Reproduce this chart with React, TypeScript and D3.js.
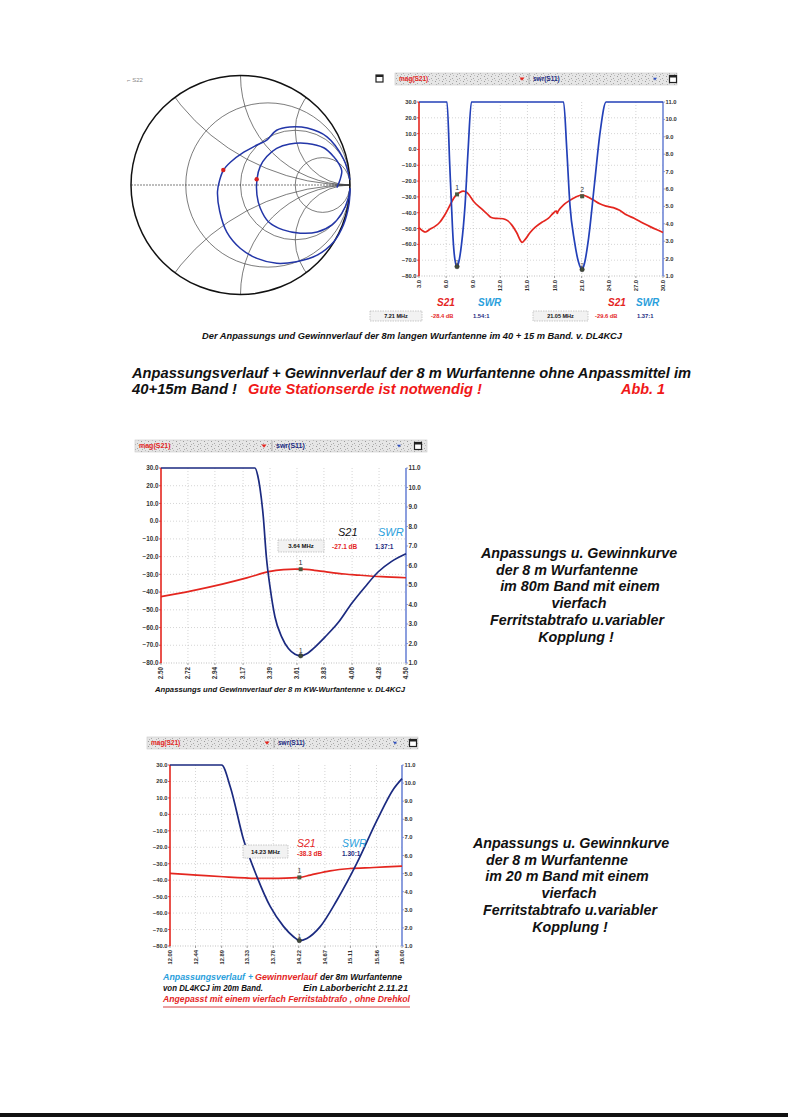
import React from 'react';
import * as d3 from 'd3';

const FONT = '"Liberation Sans", Arial, Helvetica, sans-serif';
const RED = '#e4261f';
const NAVY = '#1b2a80';
const CYAN = '#2aa0dc';

// ---------- DATA ----------
const yLeftTicks = [30, 20, 10, 0, -10, -20, -30, -40, -50, -60, -70, -80];
const yRightTicks = [11, 10, 9, 8, 7, 6, 5, 4, 3, 2, 1];

// Top chart: 40 + 15 m band
const topXTicks = [3, 6, 9, 12, 15, 18, 21, 24, 27, 30];
const topXLabels = ['3.0', '6.0', '9.0', '12.0', '15.0', '18.0', '21.0', '24.0', '27.0', '30.0'];
const topS21: [number, number][] = [
  [3.0, -49.3], [3.3, -51], [3.7, -52.2], [4.2, -50.5], [4.8, -48.5], [5.3, -46], [5.9, -41],
  [6.5, -34.5], [7.0, -29.5], [7.5, -27.2], [7.9, -26.3], [8.3, -27.2], [8.7, -30], [9.1, -33.2],
  [9.8, -37], [10.5, -40.5], [11.0, -43], [11.6, -43.6], [12.3, -43.8], [12.8, -45], [13.3, -48],
  [13.8, -52.5], [14.4, -58.7], [14.8, -56.5], [15.3, -52.5], [15.9, -49], [16.6, -46], [17.3, -43.6],
  [17.9, -40], [18.2, -39], [18.3, -40.5], [18.4, -39], [19.0, -35], [19.6, -32.5], [20.3, -30.2],
  [21.0, -28.8], [21.6, -29.8], [22.3, -32], [23.0, -34.3], [23.7, -35.8], [24.5, -36.8], [25.2, -38.5],
  [26.0, -41.5], [26.8, -43.5], [27.6, -46], [28.4, -48.3], [29.2, -50.5], [30.0, -52.5],
];
const topSWR: [number, number][] = [
  [3, 11], [6.1, 11], [6.4, 7.4], [6.6, 5.0], [6.77, 3.15], [6.96, 2.0], [7.21, 1.54], [7.4, 1.8],
  [7.7, 2.8], [8.1, 5.1], [8.44, 8.3], [8.8, 11], [19.0, 11], [19.35, 8.3], [19.7, 5.1], [20.2, 3.0],
  [20.65, 1.8], [21.05, 1.37], [21.3, 1.7], [21.76, 3.15], [22.4, 6.2], [23.05, 9.3], [23.7, 11], [30, 11],
];
const topMarkers = [
  { f: 7.21, db: -28.4, swr: 1.54, n: '1' },
  { f: 21.05, db: -29.6, swr: 1.37, n: '2' },
];

// Middle chart: 80 m band
const midXTicks = [2.5, 2.72, 2.94, 3.17, 3.39, 3.61, 3.83, 4.06, 4.28, 4.5];
const midXLabels = ['2.50', '2.72', '2.94', '3.17', '3.39', '3.61', '3.83', '4.06', '4.28', '4.50'];
const midS21: [number, number][] = [
  [2.5, -42.6], [2.75, -39.3], [3.0, -35.5], [3.2, -32], [3.38, -28.5], [3.5, -27.3], [3.64, -27.1],
  [3.75, -27.7], [3.84, -28.5], [4.0, -29.8], [4.11, -30.4], [4.3, -31.3], [4.5, -31.9],
];
const midSWR: [number, number][] = [
  [2.5, 11], [3.267, 11], [3.29, 10.6], [3.308, 9.97], [3.335, 8.5], [3.36, 6.45], [3.39, 4.9],
  [3.43, 3.37], [3.485, 2.34], [3.54, 1.74], [3.594, 1.45], [3.64, 1.37], [3.69, 1.48], [3.757, 1.82],
  [3.84, 2.34], [3.95, 3.1], [4.056, 4.05], [4.165, 4.9], [4.274, 5.68], [4.38, 6.2], [4.5, 6.6],
];
const midMarkers = [{ f: 3.64, db: -27.1, swr: 1.37, n: '1' }];

// Bottom chart: 20 m band
const botXTicks = [12, 12.44, 12.89, 13.33, 13.78, 14.22, 14.67, 15.11, 15.56, 16];
const botXLabels = ['12.00', '12.44', '12.89', '13.33', '13.78', '14.22', '14.67', '15.11', '15.56', '16.00'];
const botS21: [number, number][] = [
  [12.0, -35.9], [12.46, -36.9], [12.92, -37.9], [13.5, -38.9], [13.8, -38.9], [14.23, -38.3],
  [14.42, -36.9], [14.76, -34.3], [15.11, -32.9], [15.51, -32.3], [16.0, -31.5],
];
const botSWR: [number, number][] = [
  [12, 11], [12.89, 11], [13.04, 9.79], [13.27, 6.85], [13.5, 4.82], [13.73, 3.17], [13.96, 2.07],
  [14.13, 1.51], [14.23, 1.3], [14.36, 1.42], [14.59, 2.07], [14.88, 3.54], [15.22, 5.56],
  [15.57, 7.95], [15.86, 9.7], [16.0, 10.25],
];
const botMarkers = [{ f: 14.23, db: -38.3, swr: 1.3, n: '1' }];

// Smith chart (reflection coefficient, re / im)
const smithR = [1 / 3, 1, 3];
const smithX = [0.5, 1, 2, -0.5, -1, -2];
const smithOuter: [number, number][] = [
  [1.0, 0.046], [0.94, 0.24], [0.79, 0.44], [0.61, 0.52], [0.45, 0.53], [0.33, 0.5], [0.24, 0.41],
  [0.15, 0.365], [0.03, 0.3], [-0.09, 0.21], [-0.155, 0.137], [-0.19, 0.046], [-0.21, -0.06],
  [-0.19, -0.24], [-0.125, -0.43], [0, -0.58], [0.15, -0.67], [0.33, -0.715], [0.51, -0.7],
  [0.7, -0.64], [0.85, -0.52], [0.94, -0.365], [0.99, -0.18], [1.0, -0.03],
];
const smithInner: [number, number][] = [
  [0.88, -0.024], [0.91, 0.05], [0.925, 0.13], [0.9, 0.19], [0.85, 0.26], [0.76, 0.34], [0.61, 0.38],
  [0.45, 0.375], [0.33, 0.335], [0.24, 0.26], [0.18, 0.17], [0.15, 0.052], [0.15, -0.09],
  [0.18, -0.21], [0.255, -0.335], [0.39, -0.41], [0.545, -0.44], [0.7, -0.43], [0.835, -0.365],
  [0.925, -0.26], [0.985, -0.12], [1.0, -0.03],
];
const smithDots: [number, number][] = [[-0.157, 0.137], [0.148, 0.052]];

// ---------- COMPONENTS ----------
type ChartProps = {
  id: string;
  x0: number; x1: number; y0: number; y1: number;
  xTicks: number[]; xLabels: string[];
  s21: [number, number][]; swr: [number, number][];
  markers: { f: number; db: number; swr: number; n: string }[];
  fs: number; clipX?: number; swrColor: string;
};

function Chart(p: ChartProps) {
  const x = d3.scaleLinear().domain([p.xTicks[0], p.xTicks[p.xTicks.length - 1]]).range([p.x0, p.x1]);
  const yL = d3.scaleLinear().domain([-80, 30]).range([p.y1, p.y0]);
  const yR = d3.scaleLinear().domain([1, 11]).range([p.y1, p.y0]);
  const redLine = d3.line<[number, number]>().x(d => x(d[0])).y(d => yL(d[1])).curve(d3.curveCatmullRom);
  const blueLine = d3.line<[number, number]>().x(d => x(d[0])).y(d => yR(d[1])).curve(d3.curveMonotoneX);
  const fmt = d3.format('.1f');
  return (
    <g clipPath={p.clipX ? `url(#clip-${p.id})` : undefined}>
      {p.clipX && (
        <defs>
          <clipPath id={`clip-${p.id}`}><rect x={0} y={0} width={p.clipX} height={1117} /></clipPath>
        </defs>
      )}
      {/* grid */}
      {p.xTicks.slice(1, -1).map((t, i) => (
        <line key={'gx' + i} x1={x(t)} x2={x(t)} y1={p.y0} y2={p.y1} stroke="#b8b8b8" strokeWidth={0.6} strokeDasharray="1 2" />
      ))}
      {yLeftTicks.slice(1, -1).map((t, i) => (
        <line key={'gy' + i} x1={p.x0} x2={p.x1} y1={yL(t)} y2={yL(t)} stroke="#b8b8b8" strokeWidth={0.6} strokeDasharray="1 2" />
      ))}
      <line x1={p.x0} x2={p.x1} y1={p.y1} y2={p.y1} stroke="#999" strokeWidth={0.6} strokeDasharray="1 1.5" />
      {/* axes */}
      <line x1={p.x0} x2={p.x0} y1={p.y0} y2={p.y1} stroke={RED} strokeWidth={1.6} />
      <line x1={p.x1} x2={p.x1} y1={p.y0} y2={p.y1} stroke="#6f86d6" strokeWidth={1.6} />
      {yLeftTicks.map((t, i) => (
        <g key={'yl' + i}>
          <line x1={p.x0 - 2} x2={p.x0} y1={yL(t)} y2={yL(t)} stroke={RED} strokeWidth={0.8} />
          <text x={p.x0 - 2.5} y={yL(t) + p.fs * 0.35} textAnchor="end" fontSize={p.fs} fontWeight="bold" fill="#333" fontFamily={FONT}>{fmt(t)}</text>
        </g>
      ))}
      {yRightTicks.map((t, i) => (
        <g key={'yr' + i}>
          <line x1={p.x1} x2={p.x1 + 2} y1={yR(t)} y2={yR(t)} stroke="#6f86d6" strokeWidth={0.8} />
          <text x={p.x1 + 2.5} y={yR(t) + p.fs * 0.35} fontSize={p.fs} fontWeight="bold" fill="#333" fontFamily={FONT}>{fmt(t)}</text>
        </g>
      ))}
      {p.xTicks.map((t, i) => (
        <g key={'xt' + i}>
          <line x1={x(t)} x2={x(t)} y1={p.y1} y2={p.y1 + 2} stroke="#777" strokeWidth={0.7} />
          <text transform={`translate(${x(t) + p.fs * 0.35},${p.y1 + 4}) rotate(-90)`} textAnchor="end" fontSize={p.fs} fontWeight="bold" fill="#333" fontFamily={FONT}>{p.xLabels[i]}</text>
        </g>
      ))}
      {/* curves */}
      <path d={redLine(p.s21) || ''} fill="none" stroke={RED} strokeWidth={1.7} />
      <path d={blueLine(p.swr) || ''} fill="none" stroke={p.swrColor} strokeWidth={1.7} />
      {p.markers.map((m, i) => (
        <g key={'mk' + i}>
          <rect x={x(m.f) - 2} y={yL(m.db) - 2} width={4} height={4} fill="#4a5a40" />
          <text x={x(m.f)} y={yL(m.db) - 4} textAnchor="middle" fontSize={p.fs + 1} fill="#333" fontFamily={FONT}>{m.n}</text>
          <circle cx={x(m.f)} cy={yR(m.swr)} r={2.2} fill="#3f4a3a" stroke="#222" strokeWidth={0.5} />
          <text x={x(m.f)} y={yR(m.swr) - 3} textAnchor="middle" fontSize={p.fs} fill="#333" fontFamily={FONT}>{m.n}</text>
        </g>
      ))}
    </g>
  );
}

function HeaderBar(props: { x: number; y: number; w: number; h: number; sep: number; tri1: number; tri2: number; icon: number; fs: number }) {
  const { x, y, w, h, sep, tri1, tri2, icon, fs } = props;
  const cy = y + h / 2;
  return (
    <g>
      <rect x={x} y={y} width={w} height={h} fill="url(#noise)" stroke="#c8c8c8" strokeWidth={0.6} />
      <text x={x + 4} y={cy + fs * 0.35} fontSize={fs} fontWeight="bold" fill={RED} fontFamily={FONT}>mag(S21)</text>
      <path d={`M${tri1 - 2.5},${cy - 1.5} L${tri1 + 2.5},${cy - 1.5} L${tri1},${cy + 1.8} Z`} fill={RED} />
      <line x1={sep} x2={sep} y1={y + 1} y2={y + h - 1} stroke="#999" strokeWidth={0.7} />
      <text x={sep + 4} y={cy + fs * 0.35} fontSize={fs} fontWeight="bold" fill={NAVY} fontFamily={FONT}>swr(S11)</text>
      <path d={`M${tri2 - 2},${cy - 1.3} L${tri2 + 2},${cy - 1.3} L${tri2},${cy + 1.5} Z`} fill="#2f4fbf" />
      <rect x={icon - 3.5} y={cy - 3.5} width={7} height={7} fill="#fff" stroke="#222" strokeWidth={1.2} />
      <rect x={icon - 3.5} y={cy - 3.5} width={7} height={2} fill="#222" />
    </g>
  );
}

function Smith() {
  const cx = 240.5, cy = 185, R = 109.5;
  const sx = d3.scaleLinear().domain([-1, 1]).range([cx - R, cx + R]);
  const sy = d3.scaleLinear().domain([-1, 1]).range([cy + R, cy - R]);
  const line = d3.line<[number, number]>().x(d => sx(d[0])).y(d => sy(d[1])).curve(d3.curveCatmullRom);
  return (
    <g>
      <defs>
        <clipPath id="smithClip"><circle cx={cx} cy={cy} r={R} /></clipPath>
      </defs>
      <g clipPath="url(#smithClip)" fill="none" stroke="#444" strokeWidth={0.7}>
        {smithR.map((r, i) => (
          <circle key={'r' + i} cx={sx(r / (r + 1))} cy={cy} r={R / (r + 1)} />
        ))}
        {smithX.map((xv, i) => (
          <circle key={'x' + i} cx={sx(1)} cy={sy(1 / xv)} r={R / Math.abs(xv)} />
        ))}
        <line x1={cx - R} x2={cx + R} y1={cy} y2={cy} strokeDasharray="2 1" />
      </g>
      <circle cx={cx} cy={cy} r={R} fill="none" stroke="#111" strokeWidth={1.5} />
      <path d={line(smithOuter) || ''} fill="none" stroke="#2336a8" strokeWidth={1.5} />
      <path d={line(smithInner) || ''} fill="none" stroke="#2336a8" strokeWidth={1.5} />
      {smithDots.map((d, i) => (
        <circle key={'d' + i} cx={sx(d[0])} cy={sy(d[1])} r={2.2} fill="#d62020" />
      ))}
      <text x={127} y={82} fontSize={6} fill="#888" fontFamily={FONT}>⌐ S22</text>
    </g>
  );
}

function BoldItalic(props: { x: number; y: number; size: number; fill?: string; len?: number; anchor?: string; children: React.ReactNode }) {
  return (
    <text x={props.x} y={props.y} fontSize={props.size} fontWeight="bold" fontStyle="italic" fill={props.fill || '#111'}
      fontFamily={FONT} textAnchor={props.anchor || 'start'}
      textLength={props.len} lengthAdjust={props.len ? 'spacingAndGlyphs' : undefined}>{props.children}</text>
  );
}

function FreqBox(props: { x: number; y: number; w: number; h: number; label: string; fs: number }) {
  return (
    <g>
      <rect x={props.x} y={props.y} width={props.w} height={props.h} fill="#f2f2f2" stroke="#aaa" strokeWidth={0.6} strokeDasharray="1.5 1" />
      <text x={props.x + props.w / 2} y={props.y + props.h / 2 + props.fs * 0.35} textAnchor="middle" fontSize={props.fs} fontWeight="bold" fill="#111" fontFamily={FONT}>{props.label}</text>
    </g>
  );
}

const midTextLines = ['Anpassungs u. Gewinnkurve', 'der 8 m Wurfantenne', 'im 80m Band mit einem', 'vierfach', 'Ferritstabtrafo u.variabler', 'Kopplung !'];
const botTextLines = ['Anpassungs u. Gewinnkurve', 'der 8 m Wurfantenne', 'im 20 m Band mit einem', 'vierfach', 'Ferritstabtrafo u.variabler', 'Kopplung !'];
const midTextX = [579, 567, 580, 579, 577, 576];
const midTextY = [558, 574.5, 591, 608, 625, 642];
const botTextX = [571, 557, 567, 569, 570, 570];
const botTextY = [848, 864.5, 881, 898, 915, 932];

export default function App() {
  return (
    <svg width={788} height={1117} viewBox="0 0 788 1117" style={{ position: 'absolute', left: 0, top: 0, background: '#fff' }}>
      <defs>
        <pattern id="noise" width="7" height="5" patternUnits="userSpaceOnUse">
          <rect width="7" height="5" fill="#e6e6e6" />
          <rect x="1" y="1" width="1" height="1" fill="#9a9a9a" />
          <rect x="4" y="3" width="1" height="1" fill="#a8a8a8" />
          <rect x="5" y="0" width="1" height="1" fill="#bdbdbd" />
          <rect x="2" y="4" width="1" height="1" fill="#b0b0b0" />
        </pattern>
      </defs>
      <rect x={0} y={0} width={788} height={1117} fill="#fff" />

      {/* ===== TOP SECTION ===== */}
      <Smith />
      <rect x={376} y={75} width={7} height={7} fill="#fff" stroke="#222" strokeWidth={1.2} />
      <rect x={376} y={75} width={7} height={2} fill="#222" />
      <g clipPath="url(#clip-topbar)">
        <defs><clipPath id="clip-topbar"><rect x={0} y={0} width={680} height={200} /></clipPath></defs>
        <HeaderBar x={395} y={73} w={282} h={12} sep={529} tri1={522} tri2={655} icon={673} fs={6.5} />
      </g>
      <Chart id="top" x0={419} x1={663} y0={102} y1={276} xTicks={topXTicks} xLabels={topXLabels}
        s21={topS21} swr={topSWR} markers={topMarkers} fs={5.8} clipX={680} swrColor="#2340b8" />

      <BoldItalic x={437} y={306} size={10} fill={RED}>S21</BoldItalic>
      <BoldItalic x={478} y={306} size={10} fill={CYAN}>SWR</BoldItalic>
      <BoldItalic x={608} y={306} size={10} fill={RED}>S21</BoldItalic>
      <BoldItalic x={636} y={306} size={10} fill={CYAN}>SWR</BoldItalic>
      <FreqBox x={370} y={311} w={52} h={10} label="7.21 MHz" fs={5.5} />
      <FreqBox x={533} y={311} w={55} h={10} label="21.05 MHz" fs={5.5} />
      <text x={431} y={318} fontSize={5.8} fontWeight="bold" fill={RED} fontFamily={FONT}>-28.4 dB</text>
      <text x={473} y={318} fontSize={5.8} fontWeight="bold" fill={NAVY} fontFamily={FONT}>1.54:1</text>
      <text x={595} y={318} fontSize={5.8} fontWeight="bold" fill={RED} fontFamily={FONT}>-29.6 dB</text>
      <text x={637} y={318} fontSize={5.8} fontWeight="bold" fill={NAVY} fontFamily={FONT}>1.37:1</text>

      <BoldItalic x={202} y={339} size={8.5} len={420}>Der Anpassungs und Gewinnverlauf der 8m langen Wurfantenne  im 40 + 15 m Band.  v. DL4KCJ</BoldItalic>

      <BoldItalic x={132} y={378} size={15} len={559}>Anpassungsverlauf + Gewinnverlauf der 8 m Wurfantenne ohne Anpassmittel im</BoldItalic>
      <BoldItalic x={132} y={394} size={15} len={105}>40+15m Band !</BoldItalic>
      <BoldItalic x={248} y={394} size={14} fill="#f01818" len={234}>Gute Stationserde ist notwendig !</BoldItalic>
      <BoldItalic x={621} y={394} size={14} fill="#f01818" len={44}>Abb. 1</BoldItalic>

      {/* ===== MIDDLE SECTION ===== */}
      <HeaderBar x={135} y={440} w={292} h={12} sep={272} tri1={264} tri2={399} icon={418} fs={7} />
      <Chart id="mid" x0={161} x1={406} y0={468} y1={663} xTicks={midXTicks} xLabels={midXLabels}
        s21={midS21} swr={midSWR} markers={midMarkers} fs={6.3} swrColor={NAVY} />
      <text x={338} y={536} fontSize={11} fontStyle="italic" fill="#111" fontFamily={FONT}>S21</text>
      <text x={378} y={536} fontSize={11} fontStyle="italic" fill={CYAN} fontFamily={FONT}>SWR</text>
      <FreqBox x={278} y={540} w={46} h={12} label="3.64 MHz" fs={6} />
      <text x={332} y={549} fontSize={6.5} fontWeight="bold" fill={RED} fontFamily={FONT}>-27.1 dB</text>
      <text x={375} y={549} fontSize={6.5} fontWeight="bold" fill={NAVY} fontFamily={FONT}>1.37:1</text>
      <BoldItalic x={155} y={692} size={7} len={250}>Anpassungs und Gewinnverlauf der 8 m KW-Wurfantenne v. DL4KCJ</BoldItalic>

      {midTextLines.map((t, i) => (
        <BoldItalic key={'mt' + i} x={midTextX[i]} y={midTextY[i]} size={14.3} anchor="middle">{t}</BoldItalic>
      ))}

      {/* ===== BOTTOM SECTION ===== */}
      <HeaderBar x={147} y={737} w={271} h={12} sep={274} tri1={267} tri2={395} icon={413} fs={6.5} />
      <Chart id="bot" x0={170} x1={402} y0={765} y1={946} xTicks={botXTicks} xLabels={botXLabels}
        s21={botS21} swr={botSWR} markers={botMarkers} fs={5.8} swrColor={NAVY} />
      <text x={297} y={847} fontSize={10.5} fontStyle="italic" fill={RED} fontFamily={FONT}>S21</text>
      <text x={342} y={847} fontSize={10.5} fontStyle="italic" fill={CYAN} fontFamily={FONT}>SWR</text>
      <FreqBox x={243} y={845} w={45} h={13} label="14.23 MHz" fs={6} />
      <text x={297} y={856} fontSize={6.5} fontWeight="bold" fill={RED} fontFamily={FONT}>-38.3 dB</text>
      <text x={342} y={856} fontSize={6.5} fontWeight="bold" fill={NAVY} fontFamily={FONT}>1.30:1</text>

      <BoldItalic x={163} y={980} size={8.5} fill={CYAN} len={82}>Anpassungsverlauf</BoldItalic>
      <BoldItalic x={248} y={980} size={8.5} fill={CYAN}>+</BoldItalic>
      <BoldItalic x={255} y={980} size={8.5} fill={RED} len={62}>Gewinnverlauf</BoldItalic>
      <BoldItalic x={320} y={980} size={8.5} len={82}>der 8m Wurfantenne</BoldItalic>
      <BoldItalic x={163} y={991} size={8.5} len={100}>von DL4KCJ im 20m Band.</BoldItalic>
      <BoldItalic x={303} y={991} size={8.5} len={105}>Ein Laborbericht  2.11.21</BoldItalic>
      <BoldItalic x={163} y={1002} size={8.5} fill={RED} len={247}>Angepasst mit einem vierfach Ferritstabtrafo , ohne Drehkol</BoldItalic>
      <line x1={163} x2={410} y1={1007} y2={1007} stroke="#d84040" strokeWidth={1} />

      {botTextLines.map((t, i) => (
        <BoldItalic key={'bt' + i} x={botTextX[i]} y={botTextY[i]} size={14.3} anchor="middle">{t}</BoldItalic>
      ))}

      <rect x={0} y={1113} width={788} height={4} fill="#111" />
    </svg>
  );
}
